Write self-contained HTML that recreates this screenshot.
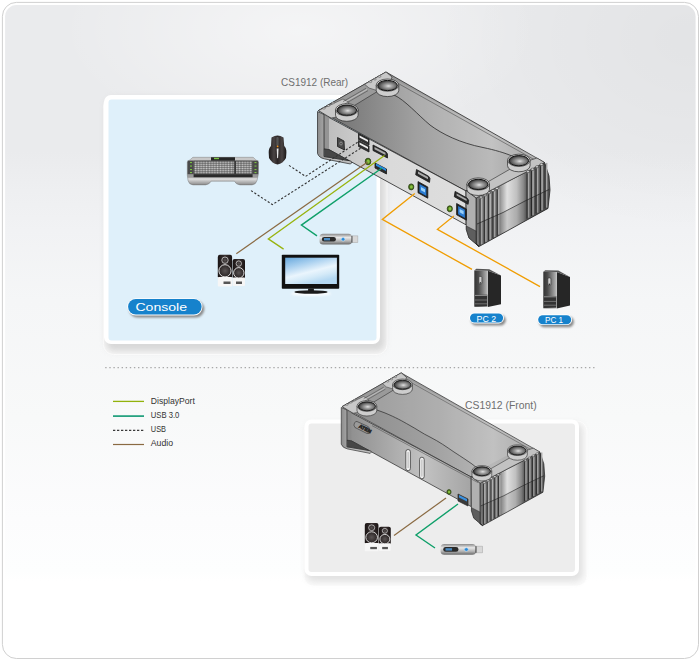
<!DOCTYPE html>
<html><head><meta charset="utf-8"><style>
html,body{margin:0;padding:0;background:#fff;width:700px;height:661px;overflow:hidden}
svg{display:block}
text{font-family:"Liberation Sans",sans-serif}
#rear .ff{fill:url(#frontG)}
#front .ff{fill:url(#frontG2)}
#rear .tf{fill:url(#topG)}
#front .tf{fill:url(#topG2)}
</style></head><body>
<svg width="700" height="661" viewBox="0 0 700 661">
<defs>
<linearGradient id="bg" x1="0" y1="0" x2="0" y2="1">
<stop offset="0" stop-color="#eaebed"/>
<stop offset="0.225" stop-color="#eaebed"/>
<stop offset="0.286" stop-color="#eeeff1"/>
<stop offset="0.347" stop-color="#f1f2f4"/>
<stop offset="0.454" stop-color="#f5f6f7"/>
<stop offset="0.636" stop-color="#f8f9f9"/>
<stop offset="0.789" stop-color="#fcfcfd"/>
<stop offset="0.87" stop-color="#fdfefe"/>
<stop offset="0.885" stop-color="#ffffff"/>
<stop offset="1" stop-color="#ffffff"/>
</linearGradient>
<radialGradient id="bgHi" gradientUnits="userSpaceOnUse" cx="300" cy="30" r="240" gradientTransform="translate(300,30) scale(1,0.48) translate(-300,-30)">
<stop offset="0" stop-color="#fff" stop-opacity="0.5"/>
<stop offset="1" stop-color="#fff" stop-opacity="0"/>
</radialGradient>
<radialGradient id="bgLo" gradientUnits="userSpaceOnUse" cx="690" cy="40" r="260" gradientTransform="translate(690,40) scale(1,0.75) translate(-690,-40)">
<stop offset="0" stop-color="#000" stop-opacity="0.032"/>
<stop offset="1" stop-color="#000" stop-opacity="0"/>
</radialGradient>
<filter id="sh" x="-10%" y="-10%" width="130%" height="130%"><feGaussianBlur stdDeviation="3"/></filter>
<filter id="sh2" x="-20%" y="-40%" width="150%" height="200%"><feGaussianBlur stdDeviation="0.8"/></filter>
<filter id="glow" x="-30%" y="-30%" width="160%" height="160%"><feGaussianBlur stdDeviation="1.2"/></filter>
<linearGradient id="topG" gradientUnits="userSpaceOnUse" x1="330" y1="0" x2="520" y2="0">
<stop offset="0" stop-color="#727272"/>
<stop offset="0.45" stop-color="#a0a0a0"/>
<stop offset="0.85" stop-color="#bababa"/>
<stop offset="1" stop-color="#a8a8a8"/>
</linearGradient>
<linearGradient id="frontG" gradientUnits="userSpaceOnUse" x1="325" y1="0" x2="470" y2="0">
<stop offset="0" stop-color="#bcbcbc"/>
<stop offset="0.45" stop-color="#dadada"/>
<stop offset="1" stop-color="#dedede"/>
</linearGradient>
<linearGradient id="frontG2" gradientUnits="userSpaceOnUse" x1="325" y1="0" x2="470" y2="0">
<stop offset="0" stop-color="#8e8e8e"/>
<stop offset="0.45" stop-color="#b4b4b4"/>
<stop offset="0.6" stop-color="#c2c2c2"/>
<stop offset="1" stop-color="#a2a2a2"/>
</linearGradient>
<linearGradient id="endR" gradientUnits="userSpaceOnUse" x1="476" y1="0" x2="550" y2="0">
<stop offset="0" stop-color="#7a7a7a"/>
<stop offset="0.3" stop-color="#727272"/>
<stop offset="0.34" stop-color="#a0a0a0"/>
<stop offset="0.42" stop-color="#e0e0e0"/>
<stop offset="0.55" stop-color="#c0c0c0"/>
<stop offset="0.64" stop-color="#8a8a8a"/>
<stop offset="0.68" stop-color="#626262"/>
<stop offset="1" stop-color="#555"/>
</linearGradient>
<linearGradient id="capL" gradientUnits="userSpaceOnUse" x1="317" y1="0" x2="330" y2="0">
<stop offset="0" stop-color="#8a8a8a"/>
<stop offset="1" stop-color="#bcbcbc"/>
</linearGradient>
<radialGradient id="foot" cx="0.55" cy="0.55" r="0.58">
<stop offset="0" stop-color="#e2e2e2"/>
<stop offset="0.25" stop-color="#acacac"/>
<stop offset="0.65" stop-color="#6a6a6a"/>
<stop offset="0.9" stop-color="#3a3a3a"/>
<stop offset="1" stop-color="#222"/>
</radialGradient>
<linearGradient id="topG2" gradientUnits="userSpaceOnUse" x1="330" y1="0" x2="520" y2="0">
<stop offset="0" stop-color="#8c8c8c"/>
<stop offset="0.5" stop-color="#a2a2a2"/>
<stop offset="0.85" stop-color="#b8b8b8"/>
<stop offset="1" stop-color="#a8a8a8"/>
</linearGradient>
<linearGradient id="kbG" x1="0" y1="0" x2="0" y2="1">
<stop offset="0" stop-color="#d8d8d8"/>
<stop offset="1" stop-color="#8a8a8a"/>
</linearGradient>
<pattern id="keys" patternUnits="userSpaceOnUse" x="194.2" y="161.2" width="2.75" height="2.1">
<rect x="0" y="0" width="2.75" height="2.1" fill="#3a3a3a"/>
<rect x="0.35" y="0.3" width="2.1" height="1.5" fill="#cfcfcf"/>
</pattern>
<linearGradient id="palmG" x1="0" y1="0" x2="0" y2="1">
<stop offset="0" stop-color="#9a9a9a"/>
<stop offset="0.72" stop-color="#9a9a9a"/>
<stop offset="0.78" stop-color="#e0e0e0"/>
<stop offset="1" stop-color="#8a8a8a"/>
</linearGradient>
<linearGradient id="mouseG" x1="0" y1="0" x2="1" y2="0">
<stop offset="0" stop-color="#1e1a1a"/>
<stop offset="0.3" stop-color="#4a4444"/>
<stop offset="0.5" stop-color="#2a2424"/>
<stop offset="0.75" stop-color="#4a4444"/>
<stop offset="1" stop-color="#1a1616"/>
</linearGradient>
<linearGradient id="scrG" x1="0" y1="0" x2="0.5" y2="1">
<stop offset="0" stop-color="#68a8dc"/>
<stop offset="0.3" stop-color="#a4cdee"/>
<stop offset="0.62" stop-color="#eaf5fd"/>
<stop offset="0.8" stop-color="#d4eaf8"/>
<stop offset="1" stop-color="#b4d8f2"/>
</linearGradient>
<linearGradient id="usbG" x1="0" y1="0" x2="0" y2="1">
<stop offset="0" stop-color="#8a8a8a"/>
<stop offset="0.35" stop-color="#e8e8e8"/>
<stop offset="0.7" stop-color="#b0b0b0"/>
<stop offset="1" stop-color="#6a6a6a"/>
</linearGradient>
<linearGradient id="pcF" x1="0" y1="0" x2="1" y2="0">
<stop offset="0" stop-color="#333"/>
<stop offset="0.3" stop-color="#4a4a4a"/>
<stop offset="0.6" stop-color="#7a7a7a"/>
<stop offset="0.88" stop-color="#a8a8a8"/>
<stop offset="1" stop-color="#c4c4c4"/>
</linearGradient>
<linearGradient id="spkB" x1="0" y1="0" x2="1" y2="0">
<stop offset="0" stop-color="#1a1414"/>
<stop offset="0.5" stop-color="#3a3232"/>
<stop offset="1" stop-color="#1a1414"/>
</linearGradient>
<radialGradient id="woof" cx="0.5" cy="0.5" r="0.5">
<stop offset="0" stop-color="#5a5454"/>
<stop offset="1" stop-color="#2a2424"/>
</radialGradient>
</defs>
<rect x="2.4" y="2.4" width="696.1" height="656.1" rx="14" fill="#fff" stroke="#d0d0d0" stroke-width="1"/>
<rect x="5.1" y="5.1" width="690.5" height="650.5" rx="11.5" fill="url(#bg)"/>
<rect x="5.1" y="5.1" width="690.5" height="650.5" rx="11.5" fill="url(#bgHi)"/>
<rect x="5.1" y="5.1" width="690.5" height="650.5" rx="11.5" fill="url(#bgLo)"/>

<rect x="103.5" y="96" width="283.5" height="258.5" rx="10" fill="#f6f6f6" stroke="#fff" stroke-width="1"/>
<rect x="106" y="98" width="279" height="253" rx="8" fill="#c4c4c4" opacity="0.6" filter="url(#sh)"/>
<rect x="104" y="95" width="276" height="249" rx="7" fill="#fff"/>
<rect x="108.5" y="99.5" width="268" height="241" rx="3" fill="#dff0fa"/>
<rect x="304" y="421" width="283" height="165" rx="10" fill="#fafafa" stroke="#fff" stroke-width="1"/>
<rect x="306" y="423" width="277" height="158.5" rx="8" fill="#c4c4c4" opacity="0.45" filter="url(#sh)"/>
<rect x="304.5" y="419.5" width="274.5" height="156.5" rx="7" fill="#fff"/>
<rect x="308.5" y="423.5" width="266.5" height="148.5" rx="3" fill="#ededed"/>
<line x1="105.2" y1="367.6" x2="597" y2="367.6" stroke="#a8a8a8" stroke-width="1.2" stroke-dasharray="1.4 2.7"/>

<line x1="113" y1="401.4" x2="144" y2="401.4" stroke="#92b20c" stroke-width="1.3"/>
<line x1="113" y1="416.1" x2="144" y2="416.1" stroke="#1c9e7a" stroke-width="1.7"/>
<line x1="113" y1="430.4" x2="144" y2="430.4" stroke="#3a3a3a" stroke-width="1.1" stroke-dasharray="2.3 1.7"/>
<line x1="113" y1="444.5" x2="144" y2="444.5" stroke="#8a6a42" stroke-width="1.2"/>
<g font-size="9" fill="#333">
<text x="150.8" y="403.9" textLength="44" lengthAdjust="spacingAndGlyphs">DisplayPort</text>
<text x="150.8" y="417.8" textLength="28.5" lengthAdjust="spacingAndGlyphs">USB 3.0</text>
<text x="150.8" y="432" textLength="15.2" lengthAdjust="spacingAndGlyphs">USB</text>
<text x="150.8" y="446.4" textLength="22.3" lengthAdjust="spacingAndGlyphs">Audio</text>
</g>
<text x="281" y="86" font-size="11" fill="#6e6e6e" textLength="67.2" lengthAdjust="spacingAndGlyphs">CS1912 (Rear)</text>
<text x="465" y="409.4" font-size="11" fill="#6e6e6e" textLength="71.6" lengthAdjust="spacingAndGlyphs">CS1912 (Front)</text>

<g>
<rect x="129" y="300.4" width="75.3" height="17.2" rx="8.6" fill="#8a8a8a" filter="url(#sh2)"/>
<rect x="127.2" y="298.2" width="75.3" height="17.2" rx="8.6" fill="#fff"/>
<rect x="128.1" y="299.1" width="73.5" height="15.4" rx="7.7" fill="#1682cc"/>
<text x="135.4" y="311.2" font-size="11.5" fill="#fff" textLength="51.7" lengthAdjust="spacingAndGlyphs">Console</text>
</g>

<g>
<rect x="470.9" y="314.8" width="34.9" height="10.8" rx="5.4" fill="#8a8a8a" filter="url(#sh2)"/>
<rect x="469.1" y="312.6" width="34.9" height="10.8" rx="5.4" fill="#fff"/>
<rect x="470" y="313.5" width="33.1" height="9" rx="4.5" fill="#1682cc"/>
<text x="476.6" y="321.7" font-size="9" fill="#fff" textLength="19.4" lengthAdjust="spacingAndGlyphs">PC 2</text>
</g>

<g>
<rect x="539.1" y="316.5" width="34.8" height="10.8" rx="5.4" fill="#8a8a8a" filter="url(#sh2)"/>
<rect x="537.3" y="314.3" width="34.8" height="10.8" rx="5.4" fill="#fff"/>
<rect x="538.2" y="315.2" width="33" height="9" rx="4.5" fill="#1682cc"/>
<text x="545" y="322.9" font-size="8.8" fill="#fff" textLength="18" lengthAdjust="spacingAndGlyphs">PC 1</text>
</g>

<g>
<path d="M187.3,162 L193,157.3 L253,157.3 L258.4,162 L258.2,175 L257,180.5 Q256,184.6 252,184.9 L240,184.9 Q236,184.6 234.5,181.2 L211,181.2 Q209.5,184.6 205.5,184.9 L193,184.9 Q189,184.6 188,180.5 L187.3,175 Z" fill="url(#palmG)" stroke="#666" stroke-width="0.4"/>
<polygon points="187.5,161.5 193,157.5 211,157.5 211,160.5 189,160.8" fill="#c8c8c8"/>
<polygon points="235,157.5 253,157.5 258.2,161.5 257,160.8 235,160.5" fill="#c8c8c8"/>
<rect x="211" y="157.3" width="24" height="3.4" fill="#262626"/>
<rect x="214" y="157.8" width="5" height="1.4" fill="#7ac143"/>
<rect x="187.6" y="160.6" width="6" height="13.6" fill="#4a4a4a"/>
<rect x="252.6" y="160.6" width="5.7" height="13.6" fill="#4a4a4a"/>
<g fill="#7ac143"><rect x="190" y="162" width="2" height="1.1"/><rect x="190" y="165.5" width="2" height="1.1"/><rect x="190" y="169" width="2" height="1.1"/><rect x="190" y="172" width="2" height="1.1"/><rect x="254.5" y="162" width="2" height="1.1"/><rect x="254.5" y="165.5" width="2" height="1.1"/><rect x="254.5" y="169" width="2" height="1.1"/><rect x="254.5" y="172" width="2" height="1.1"/></g>
<rect x="193.6" y="160.6" width="59" height="13.6" fill="#3a3a3a"/>
<rect x="194.2" y="161.2" width="40" height="12.6" fill="url(#keys)"/>
<rect x="236" y="161.2" width="16" height="12.6" fill="url(#keys)"/>
<rect x="193.6" y="174.2" width="59" height="3" fill="#2a2a2a"/>
</g>

<g>
<path d="M271.5,137.5 Q277.5,133.5 283.5,137.5 L284.2,146 Q286.6,148 286.4,152.5 L286,158 Q283,163.5 277.5,164.6 Q272,163.5 269,158 L268.7,152.5 Q268.6,148 271,146 Z" fill="url(#mouseG)"/>
<rect x="276.3" y="137" width="2.4" height="9" rx="1" fill="#555"/>
<path d="M276.7,148.5 L278.6,148.5 L278.1,157.5 L277.6,158.5 L277.1,157.5 Z" fill="#e8e8e8"/>
<circle cx="277.6" cy="146.4" r="0.9" fill="#f0901a"/>
</g>
<g id="spk">
<rect x="217.8" y="254.8" width="14.3" height="24" rx="2.2" fill="url(#spkB)"/>
<rect x="217.8" y="277" width="14.3" height="9.4" rx="1" fill="#f6f6f6"/>
<circle cx="225" cy="260.2" r="3.2" fill="url(#woof)" stroke="#e8e8e8" stroke-width="0.7"/>
<circle cx="225" cy="270.8" r="6.1" fill="url(#woof)" stroke="#f0f0f0" stroke-width="0.9"/>
<rect x="223.5" y="281.5" width="7" height="2.5" fill="#555"/>
<rect x="232.6" y="259.1" width="12.4" height="20" rx="2" fill="url(#spkB)"/>
<rect x="232.6" y="277.5" width="12.4" height="8.5" rx="1" fill="#f6f6f6"/>
<circle cx="238.8" cy="263.6" r="2.7" fill="url(#woof)" stroke="#e8e8e8" stroke-width="0.7"/>
<circle cx="238.8" cy="272.8" r="5.2" fill="url(#woof)" stroke="#f0f0f0" stroke-width="0.9"/>
<rect x="236" y="281.5" width="6" height="2.5" fill="#555"/>
</g>
<g>
<ellipse cx="311" cy="293.8" rx="20" ry="2.2" fill="#fff" opacity="0.9" filter="url(#glow)"/>
<rect x="281.8" y="254.8" width="57.4" height="34" rx="0.8" fill="#111"/>
<rect x="285.2" y="257.7" width="51.7" height="26.3" fill="url(#scrG)"/>
<rect x="308.1" y="288.5" width="5.8" height="3" fill="#1a1a1a"/>
<ellipse cx="311" cy="292" rx="16.7" ry="1.8" fill="#1a1a1a"/>
</g>
<g id="usb">
<rect x="319.5" y="233.8" width="32.5" height="10.7" rx="3.5" fill="url(#usbG)"/>
<rect x="321.9" y="236.9" width="14" height="4.6" rx="2.2" fill="#2a2a2a"/>
<rect x="324" y="238" width="6" height="2.4" fill="#4a8ac0"/>
<circle cx="343.1" cy="239.3" r="1.8" fill="#2a8ad8" stroke="#cfe8fa" stroke-width="0.5"/>
<rect x="351.5" y="235.9" width="1.2" height="6.8" fill="#333"/>
<rect x="352.6" y="235.9" width="5.3" height="6.8" fill="#d8d8d8" stroke="#999" stroke-width="0.4"/>
</g>
<g transform="translate(474.3,270.2)">
<polygon points="13.5,0.5 26.7,5.4 26.7,34 13.5,36.8" fill="#262626"/>
<polygon points="0,0.2 13.5,0.5 13.5,36.8 0,36.6" fill="url(#pcF)"/>
<polygon points="0,0.2 2,-1.4 15,-1 26.7,5.4 13.5,0.5" fill="#555"/>
<rect x="4.6" y="6.3" width="3" height="7.4" rx="1" fill="#d0d0d0" stroke="#333" stroke-width="0.6"/>
<rect x="5.4" y="12" width="1.4" height="1.4" fill="#333"/>
<rect x="0.6" y="24.5" width="12.4" height="11.5" fill="#333"/>
<line x1="0.6" y1="25.2" x2="13" y2="25.2" stroke="#bbb" stroke-width="0.7"/>
<line x1="0.6" y1="29.8" x2="13" y2="29.8" stroke="#9a9a9a" stroke-width="0.6"/>
<line x1="0.6" y1="33.6" x2="13" y2="33.6" stroke="#9a9a9a" stroke-width="0.6"/>
</g>

<g transform="translate(543.3,271.6)">
<polygon points="13.5,0.5 26.7,5.4 26.7,34 13.5,36.8" fill="#262626"/>
<polygon points="0,0.2 13.5,0.5 13.5,36.8 0,36.6" fill="url(#pcF)"/>
<polygon points="0,0.2 2,-1.4 15,-1 26.7,5.4 13.5,0.5" fill="#555"/>
<rect x="4.6" y="6.3" width="3" height="7.4" rx="1" fill="#d0d0d0" stroke="#333" stroke-width="0.6"/>
<rect x="5.4" y="12" width="1.4" height="1.4" fill="#333"/>
<rect x="0.6" y="24.5" width="12.4" height="11.5" fill="#333"/>
<line x1="0.6" y1="25.2" x2="13" y2="25.2" stroke="#bbb" stroke-width="0.7"/>
<line x1="0.6" y1="29.8" x2="13" y2="29.8" stroke="#9a9a9a" stroke-width="0.6"/>
<line x1="0.6" y1="33.6" x2="13" y2="33.6" stroke="#9a9a9a" stroke-width="0.6"/>
</g>
<g id="rear" stroke-linejoin="round">
<polygon points="476,198 544.5,162.5 549,176 550,190 548,208.4 479,246.5 476,244" fill="url(#endR)" stroke="#222" stroke-width="0.8"/>
<line x1="481.6" y1="198.05" x2="481.6" y2="244.24" stroke="#b0b0b0" stroke-width="1.6"/>
<line x1="480" y1="198.92" x2="480" y2="245.44" stroke="#262626" stroke-width="0.9"/>
<line x1="485.9" y1="195.73" x2="485.9" y2="241.84" stroke="#b0b0b0" stroke-width="1.6"/>
<line x1="484.3" y1="196.59" x2="484.3" y2="243.03" stroke="#262626" stroke-width="0.9"/>
<line x1="490.2" y1="193.4" x2="490.2" y2="239.43" stroke="#b0b0b0" stroke-width="1.6"/>
<line x1="488.6" y1="194.27" x2="488.6" y2="240.62" stroke="#262626" stroke-width="0.9"/>
<line x1="494.5" y1="191.07" x2="494.5" y2="237.02" stroke="#b0b0b0" stroke-width="1.6"/>
<line x1="492.9" y1="191.94" x2="492.9" y2="238.22" stroke="#262626" stroke-width="0.9"/>
<line x1="498.8" y1="188.75" x2="498.8" y2="234.61" stroke="#b0b0b0" stroke-width="1.6"/>
<line x1="497.2" y1="189.61" x2="497.2" y2="235.81" stroke="#262626" stroke-width="0.9"/>
<line x1="528.6" y1="172.63" x2="528.6" y2="217.72" stroke="#a8a8a8" stroke-width="1.6"/>
<line x1="527" y1="173.49" x2="527" y2="218.62" stroke="#262626" stroke-width="0.9"/>
<line x1="533.1" y1="170.19" x2="533.1" y2="215.2" stroke="#a8a8a8" stroke-width="1.6"/>
<line x1="531.5" y1="171.06" x2="531.5" y2="216.1" stroke="#262626" stroke-width="0.9"/>
<line x1="537.6" y1="167.76" x2="537.6" y2="212.68" stroke="#a8a8a8" stroke-width="1.6"/>
<line x1="536" y1="168.62" x2="536" y2="213.58" stroke="#262626" stroke-width="0.9"/>
<line x1="542.1" y1="165.32" x2="542.1" y2="210.16" stroke="#a8a8a8" stroke-width="1.6"/>
<line x1="540.5" y1="166.19" x2="540.5" y2="211.06" stroke="#262626" stroke-width="0.9"/>
<line x1="546.6" y1="162.89" x2="546.6" y2="207.64" stroke="#a8a8a8" stroke-width="1.6"/>
<line x1="545" y1="163.75" x2="545" y2="208.54" stroke="#262626" stroke-width="0.9"/>
<polygon points="477,224 503,212.5 525,201 549,189.5 548,208.4 479,246.5" fill="#000" opacity="0.1"/>

<path d="M477,224 L503,212.5 L525,201 L549,189.5" fill="none" stroke="#222" stroke-width="0.7"/>
<polygon class="tf" points="318.5,110.5 386,72 544.5,162.5 476,196.5" stroke="#2a2a2a" stroke-width="0.8"/>
<path d="M394,95 C405,100 418,115 430,125 C442,134 460,143 483,147.5 C495,150 505,153 512,156 L520,159 L537,158 L392,78 L388,86 Z" fill="#fff" opacity="0.13"/>
<path d="M392,80 L535,160" fill="none" stroke="#3a3a3a" stroke-width="0.5"/>
<path d="M394,95 C405,100 418,115 430,125 C442,134 460,143 483,147.5 C495,150 505,153 512,156" fill="none" stroke="#2a2a2a" stroke-width="0.8"/>
<polygon points="318.5,110.5 386,72 392,77 388,85 347,110 331,118" fill="#9a9a9a" stroke="#2a2a2a" stroke-width="0.6"/>
<polygon points="318.5,110.5 343,99 349,102.5 346,110 339.6,116.6 331,118" fill="#c8c8c8" stroke="#2a2a2a" stroke-width="0.5"/>
<polygon points="364.7,84.3 386,72 392,77 389,85 377,90.5 369,88" fill="#c8c8c8" stroke="#2a2a2a" stroke-width="0.5"/>
<line x1="343" y1="101.6" x2="366" y2="88.3" stroke="#3a3a3a" stroke-width="0.5"/>
<line x1="344.5" y1="104.2" x2="368" y2="90.6" stroke="#3a3a3a" stroke-width="0.5"/>
<line x1="343.6" y1="102.8" x2="367" y2="89.4" stroke="#c8c8c8" stroke-width="0.8"/>
<g fill="#d4d4d4" stroke="#2a2a2a" stroke-width="0.4"><ellipse cx="324" cy="108.2" rx="1.3" ry="0.9"/><ellipse cx="328.5" cy="105.6" rx="1.3" ry="0.9"/><ellipse cx="333" cy="103" rx="1.3" ry="0.9"/><ellipse cx="370.5" cy="81.7" rx="1.3" ry="0.9"/><ellipse cx="375" cy="79.1" rx="1.3" ry="0.9"/><ellipse cx="379.5" cy="76.5" rx="1.3" ry="0.9"/></g>
<polygon points="466,190.5 478,187.5 519,164 537,158 544.5,162.5 476,198" fill="#c2c2c2" stroke="#2a2a2a" stroke-width="0.6"/>
<ellipse cx="481" cy="197.08" rx="1.6" ry="1.1" fill="#d8d8d8" stroke="#2a2a2a" stroke-width="0.5"/>
<ellipse cx="485" cy="194.91" rx="1.6" ry="1.1" fill="#d8d8d8" stroke="#2a2a2a" stroke-width="0.5"/>
<ellipse cx="489" cy="192.75" rx="1.6" ry="1.1" fill="#d8d8d8" stroke="#2a2a2a" stroke-width="0.5"/>
<ellipse cx="493" cy="190.58" rx="1.6" ry="1.1" fill="#d8d8d8" stroke="#2a2a2a" stroke-width="0.5"/>
<ellipse cx="497" cy="188.42" rx="1.6" ry="1.1" fill="#d8d8d8" stroke="#2a2a2a" stroke-width="0.5"/>
<ellipse cx="528" cy="171.65" rx="1.6" ry="1.1" fill="#d8d8d8" stroke="#2a2a2a" stroke-width="0.5"/>
<ellipse cx="532.5" cy="169.22" rx="1.6" ry="1.1" fill="#d8d8d8" stroke="#2a2a2a" stroke-width="0.5"/>
<ellipse cx="537" cy="166.78" rx="1.6" ry="1.1" fill="#d8d8d8" stroke="#2a2a2a" stroke-width="0.5"/>
<ellipse cx="541.5" cy="164.35" rx="1.6" ry="1.1" fill="#d8d8d8" stroke="#2a2a2a" stroke-width="0.5"/>

<polygon class="ff" points="323.5,114.5 466,191 466,224.8 329,149.6 324,149" stroke="#222" stroke-width="0.8"/>
<polygon points="324,114.5 329,117.2 329,149.6 324,149" fill="#8a8a8a" opacity="0.8"/>
<polygon points="466,190.5 476,198 476,244 479,246.5 469,238 466.3,229.4" fill="#b0b0b0" stroke="#222" stroke-width="0.7"/>
<polygon points="466.3,226 476,231 476,244 479,246.5 469,238 466.3,229.4" fill="#5e5e5e" stroke="#222" stroke-width="0.5"/>
<path d="M317.5,111.5 L324,114.5 L324,156.5 L349,160.6 Q353.5,161.8 350.5,164 L324.6,158.9 Q319,157.8 317.5,153.5 Z" fill="url(#capL)" stroke="#222" stroke-width="0.7"/>
<polygon points="324.3,148.8 329,149.6 349,160.6 324.3,156.5" fill="#474747" stroke="#222" stroke-width="0.5"/>
<path d="M335.5,109.8 L335.5,115.2 A11.3,6.1 0 0 0 358.1,115.2 L358.1,109.8 Z" fill="#cdcdcd" stroke="#2a2a2a" stroke-width="0.7"/>
<ellipse cx="346.8" cy="109.8" rx="11.3" ry="6.1" fill="#d8d8d8" stroke="#2a2a2a" stroke-width="0.7"/>
<ellipse cx="346.8" cy="110.2" rx="9.83" ry="5.12" fill="url(#foot)" stroke="#151515" stroke-width="1"/>

<path d="M376.2,85.1 L376.2,90.5 A11.3,6.1 0 0 0 398.8,90.5 L398.8,85.1 Z" fill="#cdcdcd" stroke="#2a2a2a" stroke-width="0.7"/>
<ellipse cx="387.5" cy="85.1" rx="11.3" ry="6.1" fill="#d8d8d8" stroke="#2a2a2a" stroke-width="0.7"/>
<ellipse cx="387.5" cy="85.5" rx="9.83" ry="5.12" fill="url(#foot)" stroke="#151515" stroke-width="1"/>

<path d="M466.9,184 L466.9,189.4 A11.3,6.1 0 0 0 489.5,189.4 L489.5,184 Z" fill="#cdcdcd" stroke="#2a2a2a" stroke-width="0.7"/>
<ellipse cx="478.2" cy="184" rx="11.3" ry="6.1" fill="#d8d8d8" stroke="#2a2a2a" stroke-width="0.7"/>
<ellipse cx="478.2" cy="184.4" rx="9.83" ry="5.12" fill="url(#foot)" stroke="#151515" stroke-width="1"/>

<path d="M507.5,160.3 L507.5,165.7 A11.3,6.1 0 0 0 530.1,165.7 L530.1,160.3 Z" fill="#cdcdcd" stroke="#2a2a2a" stroke-width="0.7"/>
<ellipse cx="518.8" cy="160.3" rx="11.3" ry="6.1" fill="#d8d8d8" stroke="#2a2a2a" stroke-width="0.7"/>
<ellipse cx="518.8" cy="160.7" rx="9.83" ry="5.12" fill="url(#foot)" stroke="#151515" stroke-width="1"/>


<g stroke="#1a1a1a" stroke-width="0.8">
<polygon points="337.5,137.5 344,141 344.5,150 337.5,146.5" fill="#4a4a4a"/>
<ellipse cx="341" cy="143.6" rx="1.6" ry="2" fill="#8a8a8a" stroke="none"/>
<ellipse cx="341" cy="143.6" rx="0.7" ry="0.9" fill="#333" stroke="none"/>
<polygon points="358.5,133.5 369,139 369,145 358.5,139.5" fill="#333"/>
<polygon points="359.5,135.5 368,140 368,142 359.5,137.5" fill="#eee" stroke="none"/>
<polygon points="358.5,140.5 369,146 369,152 358.5,146.5" fill="#333"/>
<polygon points="359.5,142.5 368,147 368,149 359.5,144.5" fill="#eee" stroke="none"/>
<polygon points="373,145 386,151.8 387.5,154 387.5,158 373,150.5" fill="#2a2a2a"/>
<polygon points="374.5,147 385.5,152.8 385.5,155 374.5,149.2" fill="#aaa" stroke="none"/>
<polygon points="375,163 386.5,169 386.5,174 375,168" fill="#2a2a2a"/>
<polygon points="376,163.5 386,168.8 386,171 376,165.7" fill="#2a8be0" stroke="none"/>
<ellipse cx="368" cy="161.5" rx="2.8" ry="3.3" fill="#4a7a1a" stroke="#2a3a10"/>
<ellipse cx="368.2" cy="161.5" rx="1.5" ry="1.9" fill="#8ac040" stroke="none"/>
<polygon points="416.5,169.5 428.5,176.2 430,178.4 429.5,182.4 415.7,174.8" fill="#2a2a2a"/>
<polygon points="418,171.5 428,177 428,179.2 418,173.7" fill="#aaa" stroke="none"/>
<ellipse cx="411.2" cy="186.9" rx="2.6" ry="3" fill="#4a7a1a" stroke="#2a3a10"/>
<ellipse cx="411.4" cy="186.9" rx="1.4" ry="1.7" fill="#8ac040" stroke="none"/>
<polygon points="418,181.6 427.8,187 427.8,198.2 418,192.8" fill="#222"/>
<polygon points="419.5,184 426.3,187.8 426.3,196 419.5,192.2" fill="#2a7ad0" stroke="none"/>
<polygon points="421,187 425,189.2 425,192.5 421,190.3" fill="#9ad0f8" stroke="none"/>
<polygon points="455.1,191.4 467.1,198.1 468.6,200.3 468.1,204.3 454.3,196.7" fill="#2a2a2a"/>
<polygon points="456.6,193.4 466.6,198.9 466.6,201.1 456.6,195.6" fill="#aaa" stroke="none"/>
<ellipse cx="449.8" cy="208.8" rx="2.6" ry="3" fill="#4a7a1a" stroke="#2a3a10"/>
<ellipse cx="450" cy="208.8" rx="1.4" ry="1.7" fill="#8ac040" stroke="none"/>
<polygon points="456.6,203.5 466.4,208.9 466.4,220.2 456.6,214.8" fill="#222"/>
<polygon points="458.1,205.9 464.9,209.7 464.9,218 458.1,214.2" fill="#2a7ad0" stroke="none"/>
<polygon points="459.6,208.9 463.6,211.1 463.6,214.4 459.6,212.2" fill="#9ad0f8" stroke="none"/>
</g>
</g>
<g fill="none">
<polyline points="414.8,193.4 382.3,219.4 472,269.4" stroke="#f09d02" stroke-width="1.3"/>
<polyline points="453.8,216.1 437.4,229.3 540,286.6" stroke="#f09d02" stroke-width="1.3"/>
<polyline points="289,165.4 305.6,176.4 358,142" stroke="#333" stroke-width="1.1" stroke-dasharray="2.2 1.8"/>
<polyline points="251,190.6 272.4,204.6 361,148" stroke="#333" stroke-width="1.1" stroke-dasharray="2.2 1.8"/>
<polyline points="367.6,162 236.3,253.7" stroke="#8a6a42" stroke-width="1.2"/>
<polyline points="384.5,155.5 268.3,238.9 283.6,249.1" stroke="#98b410" stroke-width="1.3"/>
<polyline points="382,168 301.4,225.1 317,235.9" stroke="#10a06a" stroke-width="1.4"/>
</g>
<g id="front" stroke-linejoin="round" transform="translate(63.45,309.9) scale(0.875)">
<polygon points="476,198 544.5,162.5 549,176 550,190 548,208.4 479,246.5 476,244" fill="url(#endR)" stroke="#222" stroke-width="0.8"/>
<line x1="481.6" y1="198.05" x2="481.6" y2="244.24" stroke="#b0b0b0" stroke-width="1.6"/>
<line x1="480" y1="198.92" x2="480" y2="245.44" stroke="#262626" stroke-width="0.9"/>
<line x1="485.9" y1="195.73" x2="485.9" y2="241.84" stroke="#b0b0b0" stroke-width="1.6"/>
<line x1="484.3" y1="196.59" x2="484.3" y2="243.03" stroke="#262626" stroke-width="0.9"/>
<line x1="490.2" y1="193.4" x2="490.2" y2="239.43" stroke="#b0b0b0" stroke-width="1.6"/>
<line x1="488.6" y1="194.27" x2="488.6" y2="240.62" stroke="#262626" stroke-width="0.9"/>
<line x1="494.5" y1="191.07" x2="494.5" y2="237.02" stroke="#b0b0b0" stroke-width="1.6"/>
<line x1="492.9" y1="191.94" x2="492.9" y2="238.22" stroke="#262626" stroke-width="0.9"/>
<line x1="498.8" y1="188.75" x2="498.8" y2="234.61" stroke="#b0b0b0" stroke-width="1.6"/>
<line x1="497.2" y1="189.61" x2="497.2" y2="235.81" stroke="#262626" stroke-width="0.9"/>
<line x1="528.6" y1="172.63" x2="528.6" y2="217.72" stroke="#a8a8a8" stroke-width="1.6"/>
<line x1="527" y1="173.49" x2="527" y2="218.62" stroke="#262626" stroke-width="0.9"/>
<line x1="533.1" y1="170.19" x2="533.1" y2="215.2" stroke="#a8a8a8" stroke-width="1.6"/>
<line x1="531.5" y1="171.06" x2="531.5" y2="216.1" stroke="#262626" stroke-width="0.9"/>
<line x1="537.6" y1="167.76" x2="537.6" y2="212.68" stroke="#a8a8a8" stroke-width="1.6"/>
<line x1="536" y1="168.62" x2="536" y2="213.58" stroke="#262626" stroke-width="0.9"/>
<line x1="542.1" y1="165.32" x2="542.1" y2="210.16" stroke="#a8a8a8" stroke-width="1.6"/>
<line x1="540.5" y1="166.19" x2="540.5" y2="211.06" stroke="#262626" stroke-width="0.9"/>
<line x1="546.6" y1="162.89" x2="546.6" y2="207.64" stroke="#a8a8a8" stroke-width="1.6"/>
<line x1="545" y1="163.75" x2="545" y2="208.54" stroke="#262626" stroke-width="0.9"/>
<polygon points="477,224 503,212.5 525,201 549,189.5 548,208.4 479,246.5" fill="#000" opacity="0.1"/>

<path d="M477,224 L503,212.5 L525,201 L549,189.5" fill="none" stroke="#222" stroke-width="0.7"/>
<polygon class="tf" points="318.5,110.5 386,72 544.5,162.5 476,196.5" stroke="#2a2a2a" stroke-width="0.8"/>
<path d="M341.8,109.3 C352,112 360,115 367.5,117.8 C380,123 387,127 394.9,131.5 C405,137 410,141 418.9,145.3 C430,151 437,156 446.3,162.4 C455,168 461,172 466.9,176.1 L475.5,182.9 L519,160 L537,158 L392,78 L388,86 L347,109 Z" fill="#fff" opacity="0.13"/>
<path d="M392,80 L535,160" fill="none" stroke="#3a3a3a" stroke-width="0.5"/>
<path d="M341.8,109.3 C352,112 360,115 367.5,117.8 C380,123 387,127 394.9,131.5 C405,137 410,141 418.9,145.3 C430,151 437,156 446.3,162.4 C455,168 461,172 466.9,176.1 L475.5,182.9" fill="none" stroke="#2a2a2a" stroke-width="0.8"/>
<polygon points="318.5,110.5 386,72 392,77 388,85 347,110 331,118" fill="#9a9a9a" stroke="#2a2a2a" stroke-width="0.6"/>
<polygon points="318.5,110.5 343,99 349,102.5 346,110 339.6,116.6 331,118" fill="#c8c8c8" stroke="#2a2a2a" stroke-width="0.5"/>
<polygon points="364.7,84.3 386,72 392,77 389,85 377,90.5 369,88" fill="#c8c8c8" stroke="#2a2a2a" stroke-width="0.5"/>
<line x1="343" y1="101.6" x2="366" y2="88.3" stroke="#3a3a3a" stroke-width="0.5"/>
<line x1="344.5" y1="104.2" x2="368" y2="90.6" stroke="#3a3a3a" stroke-width="0.5"/>
<line x1="343.6" y1="102.8" x2="367" y2="89.4" stroke="#c8c8c8" stroke-width="0.8"/>
<g fill="#d4d4d4" stroke="#2a2a2a" stroke-width="0.4"><ellipse cx="324" cy="108.2" rx="1.3" ry="0.9"/><ellipse cx="328.5" cy="105.6" rx="1.3" ry="0.9"/><ellipse cx="333" cy="103" rx="1.3" ry="0.9"/><ellipse cx="370.5" cy="81.7" rx="1.3" ry="0.9"/><ellipse cx="375" cy="79.1" rx="1.3" ry="0.9"/><ellipse cx="379.5" cy="76.5" rx="1.3" ry="0.9"/></g>
<polygon points="466,190.5 478,187.5 519,164 537,158 544.5,162.5 476,198" fill="#c2c2c2" stroke="#2a2a2a" stroke-width="0.6"/>
<ellipse cx="481" cy="197.08" rx="1.6" ry="1.1" fill="#d8d8d8" stroke="#2a2a2a" stroke-width="0.5"/>
<ellipse cx="485" cy="194.91" rx="1.6" ry="1.1" fill="#d8d8d8" stroke="#2a2a2a" stroke-width="0.5"/>
<ellipse cx="489" cy="192.75" rx="1.6" ry="1.1" fill="#d8d8d8" stroke="#2a2a2a" stroke-width="0.5"/>
<ellipse cx="493" cy="190.58" rx="1.6" ry="1.1" fill="#d8d8d8" stroke="#2a2a2a" stroke-width="0.5"/>
<ellipse cx="497" cy="188.42" rx="1.6" ry="1.1" fill="#d8d8d8" stroke="#2a2a2a" stroke-width="0.5"/>
<ellipse cx="528" cy="171.65" rx="1.6" ry="1.1" fill="#d8d8d8" stroke="#2a2a2a" stroke-width="0.5"/>
<ellipse cx="532.5" cy="169.22" rx="1.6" ry="1.1" fill="#d8d8d8" stroke="#2a2a2a" stroke-width="0.5"/>
<ellipse cx="537" cy="166.78" rx="1.6" ry="1.1" fill="#d8d8d8" stroke="#2a2a2a" stroke-width="0.5"/>
<ellipse cx="541.5" cy="164.35" rx="1.6" ry="1.1" fill="#d8d8d8" stroke="#2a2a2a" stroke-width="0.5"/>

<polygon class="ff" points="323.5,114.5 466,191 466,224.8 329,149.6 324,149" stroke="#222" stroke-width="0.8"/>
<polygon points="324,114.5 329,117.2 329,149.6 324,149" fill="#8a8a8a" opacity="0.8"/>
<polygon points="466,190.5 476,198 476,244 479,246.5 469,238 466.3,229.4" fill="#b0b0b0" stroke="#222" stroke-width="0.7"/>
<polygon points="466.3,226 476,231 476,244 479,246.5 469,238 466.3,229.4" fill="#5e5e5e" stroke="#222" stroke-width="0.5"/>
<path d="M317.5,111.5 L324,114.5 L324,156.5 L349,160.6 Q353.5,161.8 350.5,164 L324.6,158.9 Q319,157.8 317.5,153.5 Z" fill="url(#capL)" stroke="#222" stroke-width="0.7"/>
<polygon points="324.3,148.8 329,149.6 349,160.6 324.3,156.5" fill="#474747" stroke="#222" stroke-width="0.5"/>
<path d="M335.5,109.8 L335.5,115.2 A11.3,6.1 0 0 0 358.1,115.2 L358.1,109.8 Z" fill="#cdcdcd" stroke="#2a2a2a" stroke-width="0.7"/>
<ellipse cx="346.8" cy="109.8" rx="11.3" ry="6.1" fill="#d8d8d8" stroke="#2a2a2a" stroke-width="0.7"/>
<ellipse cx="346.8" cy="110.2" rx="9.83" ry="5.12" fill="url(#foot)" stroke="#151515" stroke-width="1"/>

<path d="M376.2,85.1 L376.2,90.5 A11.3,6.1 0 0 0 398.8,90.5 L398.8,85.1 Z" fill="#cdcdcd" stroke="#2a2a2a" stroke-width="0.7"/>
<ellipse cx="387.5" cy="85.1" rx="11.3" ry="6.1" fill="#d8d8d8" stroke="#2a2a2a" stroke-width="0.7"/>
<ellipse cx="387.5" cy="85.5" rx="9.83" ry="5.12" fill="url(#foot)" stroke="#151515" stroke-width="1"/>

<path d="M466.9,184 L466.9,189.4 A11.3,6.1 0 0 0 489.5,189.4 L489.5,184 Z" fill="#cdcdcd" stroke="#2a2a2a" stroke-width="0.7"/>
<ellipse cx="478.2" cy="184" rx="11.3" ry="6.1" fill="#d8d8d8" stroke="#2a2a2a" stroke-width="0.7"/>
<ellipse cx="478.2" cy="184.4" rx="9.83" ry="5.12" fill="url(#foot)" stroke="#151515" stroke-width="1"/>

<path d="M507.5,160.3 L507.5,165.7 A11.3,6.1 0 0 0 530.1,165.7 L530.1,160.3 Z" fill="#cdcdcd" stroke="#2a2a2a" stroke-width="0.7"/>
<ellipse cx="518.8" cy="160.3" rx="11.3" ry="6.1" fill="#d8d8d8" stroke="#2a2a2a" stroke-width="0.7"/>
<ellipse cx="518.8" cy="160.7" rx="9.83" ry="5.12" fill="url(#foot)" stroke="#151515" stroke-width="1"/>

</g>
<g stroke="#2a2a2a" stroke-width="0.7">
<line x1="372" y1="425.6" x2="478" y2="482.6" stroke="#555" stroke-width="0.6"/>
<path d="M354.5,423 Q353,425 355,427.5 L367,433.5 Q369.5,434.5 369.5,431.5 L369.5,429 Q369.5,427 367,426 L357,421.5 Q355.5,421 354.5,423 Z" fill="#9a9a9a" stroke="#333" stroke-width="0.6"/>
<text x="0" y="0" font-size="5" fill="#2a2a2a" font-weight="bold" transform="translate(358.4,427.2) rotate(27.5)">ATEN</text>
<rect x="405.8" y="449.5" width="4.6" height="21.2" rx="2.3" fill="#f2f2f2"/>
<line x1="408.1" y1="452" x2="408.1" y2="468" stroke="#888" stroke-width="0.6"/>
<rect x="419.6" y="457.2" width="4.6" height="21.6" rx="2.3" fill="#f2f2f2"/>
<line x1="421.9" y1="459.5" x2="421.9" y2="476.5" stroke="#888" stroke-width="0.6"/>
<ellipse cx="449" cy="492" rx="2.1" ry="2.4" fill="#4a7a1a" stroke="#2a3a10"/>
<ellipse cx="449.1" cy="492" rx="1.1" ry="1.3" fill="#8ac040" stroke="none"/>
<polygon points="458,494 468,499 468,506 458,501" fill="#3a3a3a"/>
<polygon points="459,495 467,499 467,501.5 459,497.5" fill="#3a90e0" stroke="none"/>
</g>
<g transform="translate(364.8,522.9) scale(0.955,0.9) translate(-217.8,-254.8)">
<rect x="217.8" y="254.8" width="14.3" height="24" rx="2.2" fill="url(#spkB)"/>
<rect x="217.8" y="277" width="14.3" height="9.4" rx="1" fill="#f6f6f6"/>
<circle cx="225" cy="260.2" r="3.2" fill="url(#woof)" stroke="#e8e8e8" stroke-width="0.7"/>
<circle cx="225" cy="270.8" r="6.1" fill="url(#woof)" stroke="#f0f0f0" stroke-width="0.9"/>
<rect x="223.5" y="281.5" width="7" height="2.5" fill="#555"/>
<rect x="232.6" y="259.1" width="12.4" height="20" rx="2" fill="url(#spkB)"/>
<rect x="232.6" y="277.5" width="12.4" height="8.5" rx="1" fill="#f6f6f6"/>
<circle cx="238.8" cy="263.6" r="2.7" fill="url(#woof)" stroke="#e8e8e8" stroke-width="0.7"/>
<circle cx="238.8" cy="272.8" r="5.2" fill="url(#woof)" stroke="#f0f0f0" stroke-width="0.9"/>
<rect x="236" y="281.5" width="6" height="2.5" fill="#555"/>
</g><g transform="translate(440.6,544) scale(1.09,1) translate(-319.5,-233.8)">
<rect x="319.5" y="233.8" width="32.5" height="10.7" rx="3.5" fill="url(#usbG)"/>
<rect x="321.9" y="236.9" width="14" height="4.6" rx="2.2" fill="#2a2a2a"/>
<rect x="324" y="238" width="6" height="2.4" fill="#4a8ac0"/>
<circle cx="343.1" cy="239.3" r="1.8" fill="#2a8ad8" stroke="#cfe8fa" stroke-width="0.5"/>
<rect x="351.5" y="235.9" width="1.2" height="6.8" fill="#333"/>
<rect x="352.6" y="235.9" width="5.3" height="6.8" fill="#d8d8d8" stroke="#999" stroke-width="0.4"/>
</g>
<g fill="none">
<polyline points="446,498 394,535.6" stroke="#8a6a42" stroke-width="1.2"/>
<polyline points="458,504 416,535 435,548" stroke="#10a06a" stroke-width="1.4"/>
</g>
</svg>
</body></html>
